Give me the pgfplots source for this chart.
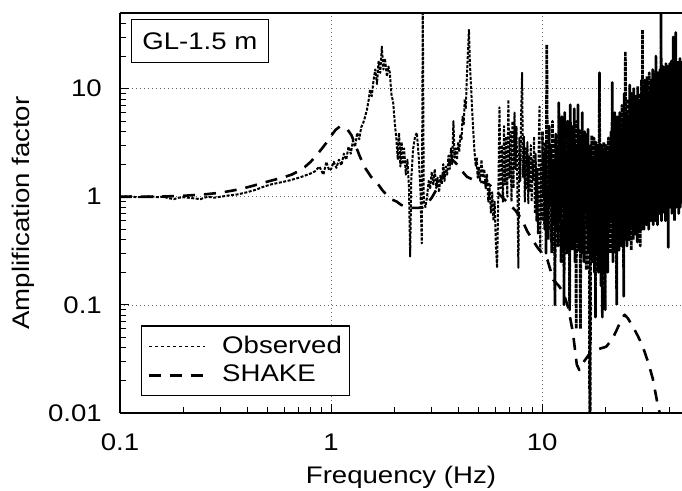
\documentclass[border=0pt]{standalone}
\usepackage{fontspec}
\setmainfont{Liberation Sans}[FakeStretch=1.15]
\usepackage{pgfplots}
\pgfplotsset{compat=1.18}
\begin{document}
\fontsize{24bp}{28bp}\selectfont
\begin{tikzpicture}
\begin{axis}[
  scale only axis, width=562bp, height=400bp,
  xmode=log, ymode=log,
  xmin=0.1, xmax=46, ymin=0.01, ymax=50,
  axis x line*=box, axis y line*=left,
  axis line style={line width=1.3bp, black},
  xtick={0.1,1,10}, xticklabels={0.1,1,10},
  ytick={0.01,0.1,1,10}, yticklabels={0.01,0.1,1,10},
  minor xtick={0.2,0.3,0.4,0.5,0.6,0.7,0.8,0.9,2,3,4,5,6,7,8,9,20,30,40},
  minor ytick={0.02,0.03,0.04,0.05,0.06,0.07,0.08,0.09,0.2,0.3,0.4,0.5,0.6,0.7,0.8,0.9,2,3,4,5,6,7,8,9,20,30,40},
  tick pos=left, tick align=inside,
  major tick length=9bp, minor tick length=6bp,
  tick style={line width=0.9bp, black},
  grid=major,
  major grid style={line width=0.6bp, black!60, dash pattern=on 1.5bp off 2.5bp},
  minor grid style={draw=none},
  xticklabel style={inner sep=0pt, yshift=-21bp},
  yticklabel style={inner sep=0pt, xshift=-18bp},
  xlabel={Frequency (Hz)}, ylabel={Amplification factor},
  xlabel style={at={(axis description cs:0.5,-0.16)}, anchor=center},
  ylabel style={at={(axis description cs:-0.1726,0.5)}, anchor=center, rotate=0},
  legend style={at={(axis description cs:0.0374,0.0425)}, anchor=south west,
    draw=black, line width=1.2bp, fill=white, inner xsep=6bp, inner ysep=8bp,
    row sep=4bp, column sep=14bp, nodes={inner sep=2bp}},
  legend cell align=left,
  legend image code/.code={\draw[#1] (0bp,0bp) -- (56bp,0bp);},
  clip=true,
]
\addplot[black, line width=2.0bp, dash pattern=on 3bp off 1.5bp, line join=round,
  legend image post style={line width=0.8bp, dash pattern=on 3.5bp off 2.5bp}] table {
0.10 1.00
0.11 1.01
0.12 0.99
0.13 1.00
0.14 1.01
0.15 0.99
0.16 1.00
0.17 0.97
0.18 0.95
0.19 0.98
0.20 0.99
0.22 0.97
0.24 0.95
0.26 1.00
0.28 0.98
0.30 1.00
0.33 1.03
0.36 1.05
0.40 1.10
0.44 1.16
0.48 1.24
0.52 1.30
0.56 1.34
0.60 1.38
0.64 1.42
0.68 1.47
0.72 1.52
0.76 1.58
0.80 1.64
0.84 1.72
0.88 1.90
0.92 1.60
0.95 2.10
0.98 1.75
1.00 1.80
1.03 2.10
1.06 1.85
1.09 2.20
1.12 1.95
1.15 2.50
1.18 2.20
1.21 2.90
1.24 2.50
1.27 3.30
1.30 2.90
1.33 3.90
1.36 3.40
1.39 4.40
1.42 4.80
1.45 5.50
1.48 6.40
1.51 8.0
1.53 9.8
1.56 8.5
1.59 12.0
1.62 15.0
1.65 11.0
1.68 18.0
1.71 14.0
1.74 24.5
1.77 15.0
1.80 19.0
1.84 12.9
1.87 16.0
1.90 14.0
1.93 9.0
1.97 7.4
2.01 4.5
2.04 3.4
2.07 2.2
2.10 3.9
2.13 1.9
2.16 3.2
2.19 2.0
2.22 2.8
2.26 1.6
2.30 2.2
2.34 1.2
2.37 0.28
2.40 1.5
2.45 2.8
2.50 3.6
2.55 3.9
2.60 2.4
2.65 1.2
2.69 0.37
2.72 60
2.75 0.9
2.80 0.8
2.85 1.0
2.90 1.4
2.95 1.2
3.00 1.7
3.05 1.3
3.10 1.8
3.15 1.2
3.20 1.5
3.25 1.1
3.30 1.6
3.35 1.3
3.40 2.0
3.45 1.4
3.50 1.9
3.55 1.6
3.60 2.4
3.65 1.8
3.70 2.8
3.75 2.0
3.80 5.0
3.85 2.3
3.90 2.8
3.95 2.2
4.00 3.2
4.05 2.6
4.10 3.8
4.15 3.4
4.20 5.5
4.25 4.6
4.30 8.0
4.35 6.5
4.40 13
4.45 21
4.50 35
4.55 17
4.60 11
4.65 7
4.70 4.6
4.75 3.2
4.80 2.4
4.85 1.9
4.90 2.3
4.95 1.5
5.00 1.9
5.08 1.4
5.16 2.2
5.24 1.5
5.32 1.8
5.40 1.2
5.48 1.6
5.56 0.9
5.64 1.2
5.72 0.7
5.80 1.1
5.88 0.6
5.96 0.9
6.04 0.35
6.12 0.22
6.20 1.0
6.28 6.7
6.36 1.2
6.44 3.0
6.52 0.9
6.60 4.5
6.68 1.3
6.76 3.6
6.84 1.0
6.92 7.9
7.00 1.5
7.08 4.0
7.16 0.9
7.24 5.0
7.32 1.2
7.40 6.0
7.48 1.8
7.56 4.5
7.64 1.1
7.72 0.22
7.80 3.5
7.88 1.4
7.96 6.0
8.04 14
8.12 1.5
8.20 3.6
8.28 0.9
8.36 2.8
8.44 1.2
8.52 3.2
8.60 0.87
8.68 2.4
8.76 1.1
8.84 3.0
8.92 0.9
9.00 2.2
9.08 1.4
9.16 3.6
9.24 0.7
9.32 2.5
9.40 0.6
9.48 1.8
9.56 0.45
9.64 3.0
9.72 6.8
9.80 0.32
9.88 2.0
9.96 0.6
10.04 4.0
};
\addlegendentry{Observed}
\addplot[black, line width=2.7bp, dash pattern=on 4bp off 1bp, line join=round, forget plot] table {
10.04 4.0
10.12 1.0
10.20 2.6
10.28 0.5
10.36 3.2
10.44 0.3
10.52 25.6
10.60 1.5
10.70 0.4
10.80 4.5
10.90 0.8
11.00 3.0
11.10 0.3
11.20 5.0
11.30 0.6
11.40 2.2
11.50 0.1
11.60 3.8
11.70 0.5
11.80 2.8
11.90 0.35
12.00 7.4
12.10 0.6
12.20 4.0
12.30 0.25
12.40 5.5
12.50 0.8
12.60 3.0
12.70 0.1
12.80 6.0
12.90 0.4
13.00 2.5
13.10 0.3
13.20 5.0
13.30 0.7
13.40 3.5
13.50 0.09
13.60 7.1
13.70 0.5
13.80 4.5
13.90 0.32
14.00 2.8
14.10 0.6
14.20 6.5
14.30 0.25
14.40 3.0
14.50 0.06
14.60 5.0
14.70 0.4
14.80 7.1
14.90 0.32
15.00 3.5
15.10 0.8
15.20 0.06
15.30 4.2
15.40 0.3
15.50 6.0
15.60 0.5
15.70 3.0
15.80 0.25
15.90 4.0
16.00 0.7
16.10 2.5
16.20 0.21
16.30 3.8
16.40 0.5
16.50 4.2
16.60 0.3
16.70 2.0
16.80 0.008
16.90 0.005
17.00 3.0
17.10 0.4
17.20 3.7
17.30 0.25
17.40 2.2
17.50 0.6
17.60 3.5
17.70 0.2
17.80 2.5
17.90 0.077
18.00 3.2
18.10 0.3
18.20 2.0
18.30 0.5
18.40 3.0
18.50 0.2
18.70 14
18.80 0.4
18.90 2.5
19.00 0.15
19.10 3.0
19.20 0.3
19.30 0.077
19.40 2.8
19.50 0.5
19.60 3.2
19.70 0.2
19.80 2.0
19.90 0.09
20.00 3.0
20.15 0.4
20.30 2.5
20.45 0.2
20.60 3.5
20.75 0.5
20.90 2.8
21.05 0.3
21.20 4.0
21.35 0.6
21.50 11.4
21.65 0.25
21.80 5.0
21.95 0.5
22.10 6.0
22.25 0.3
22.40 4.5
22.55 0.1
22.70 5.5
22.85 0.6
23.00 3.8
23.15 0.32
23.30 6.0
23.45 0.5
23.60 4.0
23.75 0.35
23.90 7.0
24.05 0.6
24.20 5.0
24.35 0.12
24.50 9.0
24.65 0.4
24.80 22
24.95 0.5
25.10 6.0
25.25 0.35
25.40 8.0
25.55 0.7
25.70 5.5
25.85 0.4
26.00 10.8
26.15 0.5
26.30 6.5
26.45 0.32
26.60 9.0
26.75 0.6
26.90 7.5
27.05 0.4
27.20 10
27.35 0.7
27.50 6.0
27.65 0.45
27.80 8.5
27.95 0.6
28.10 7.0
28.25 0.38
28.40 10.5
28.55 0.8
28.70 6.5
28.85 0.5
29.00 9.0
29.15 0.35
29.30 7.5
29.45 0.7
29.60 12
29.75 0.5
29.90 35
30.05 0.6
30.20 9
30.40 0.5
30.60 12
30.80 0.7
31.00 8
31.20 0.55
31.40 13
31.60 0.8
31.80 9
32.00 0.5
32.20 14
32.40 0.9
32.60 10
32.80 0.6
33.00 12
33.20 0.75
33.40 15
33.60 0.55
33.80 11
34.00 0.9
34.20 13
34.40 0.6
34.60 20
34.80 0.8
35.00 12
35.20 0.55
35.40 14
35.60 1.0
35.80 11
36.00 0.7
36.20 15
36.40 0.9
36.60 52
36.80 0.6
37.00 13
37.20 1.0
37.40 16
37.60 0.7
37.80 12
38.00 0.9
38.20 15
38.40 0.6
38.60 17
38.80 1.1
39.00 13
39.20 0.8
39.40 16
39.60 0.34
39.80 14
40.00 1.0
40.20 17
40.40 0.8
40.60 13
40.80 1.2
41.00 18
41.20 0.7
41.40 15
41.60 1.0
41.80 30
42.00 0.9
42.20 16
42.40 0.6
42.60 18
42.80 1.1
43.00 33
43.20 0.8
43.40 17
43.60 1.2
43.80 15
44.00 0.9
44.20 18
44.40 0.7
44.60 16
44.80 1.0
45.00 19
45.20 0.8
45.40 17
45.60 1.1
45.80 18
46.00 0.9
};
\addplot[black, line width=2.6bp, dash pattern=on 12bp off 9bp, line join=round] table {
0.10 1.00
0.15 1.00
0.20 1.02
0.25 1.05
0.30 1.09
0.35 1.15
0.40 1.22
0.45 1.30
0.50 1.38
0.55 1.45
0.60 1.52
0.65 1.60
0.70 1.72
0.75 1.88
0.80 2.10
0.85 2.40
0.90 2.75
0.95 3.15
1.00 3.65
1.05 4.15
1.10 4.45
1.15 4.40
1.20 4.15
1.25 3.70
1.30 3.05
1.37 2.35
1.45 1.85
1.55 1.52
1.65 1.35
1.75 1.15
1.85 1.02
1.95 0.94
2.05 0.90
2.15 0.84
2.25 0.81
2.37 0.79
2.50 0.79
2.60 0.79
2.73 0.80
2.85 0.86
3.00 0.98
3.20 1.22
3.40 1.60
3.60 2.00
3.75 2.20
3.90 2.05
4.10 1.80
4.40 1.53
4.70 1.44
5.00 1.38
5.20 1.37
5.60 1.30
6.00 1.15
6.50 0.98
7.00 0.85
7.50 0.74
8.00 0.62
8.50 0.48
9.00 0.40
9.50 0.34
10.00 0.30
10.60 0.26
11.30 0.17
12.00 0.15
12.60 0.13
13.30 0.094
14.00 0.055
14.60 0.028
15.00 0.025
15.60 0.029
16.90 0.036
18.50 0.039
20.10 0.041
21.50 0.048
22.60 0.059
23.80 0.074
24.60 0.081
25.50 0.075
26.90 0.063
28.50 0.051
30.00 0.041
31.70 0.030
33.40 0.021
35.00 0.013
36.50 0.009
38.00 0.006
};
\addlegendentry{SHAKE}
\node[draw=black, line width=1.2bp, fill=white, inner xsep=11bp, inner ysep=13bp, text depth=0pt] at (axis description cs:0.142,0.93) {GL-1.5 m};
\end{axis}
\pgfresetboundingbox
\path (-120bp,-78bp) rectangle (562bp,413bp);
\end{tikzpicture}
\end{document}
